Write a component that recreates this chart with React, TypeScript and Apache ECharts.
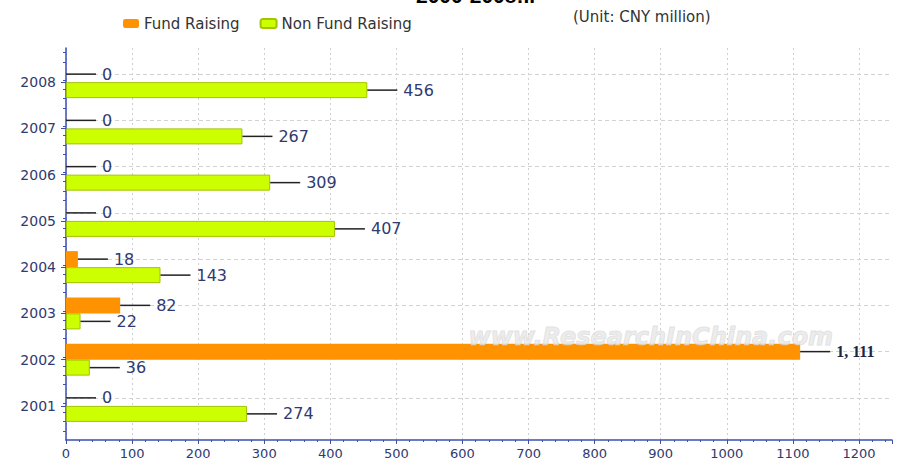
import React, { useEffect, useRef } from "react";
import * as echarts from "echarts";

const years = ["2001", "2002", "2003", "2004", "2005", "2006", "2007", "2008"];
const fundRaising = [0, 1111, 82, 18, 0, 0, 0, 0];
const nonFundRaising = [274, 36, 22, 143, 407, 309, 267, 456];
const seriesNames = ["Fund Raising", "Non Fund Raising"];
const unitText = "(Unit: CNY million)";
const titleText = "2000-2008:..";
const watermarkText = "www.ResearchInChina.com";

const NAVY = "#2f3a70";
const AXIS_BLUE = "#3b4fb5";

function fmt(v: number) {
  return String(v).replace(/\B(?=(\d{3})+(?!\d))/g, ", ");
}

function labelCfg() {
  return {
    show: true,
    position: "right" as const,
    distance: 0,
    formatter: (p: any) => {
      const v = p.value as number;
      return v >= 1000 ? `{l|}{s|${fmt(v)}}` : `{l|}{v|${fmt(v)}}`;
    },
    rich: {
      l: { width: 30, height: 1.5, backgroundColor: "#222" },
      v: {
        color: NAVY,
        fontSize: 16,
        fontFamily: "DejaVu Sans",
        padding: [0, 0, 0, 6],
      },
      s: {
        color: "#1e2444",
        fontSize: 16,
        fontWeight: "bold",
        fontFamily: "Liberation Serif",
        padding: [0, 0, 0, 6],
      },
    },
  };
}

export default function App() {
  const ref = useRef<HTMLDivElement>(null);
  useEffect(() => {
    document.body.style.margin = "0";
    if (!ref.current) return;
    const chart = echarts.init(ref.current, null, { renderer: "svg" });
    chart.setOption({
      animation: false,
      backgroundColor: "#ffffff",
      legend: {
        data: seriesNames,
        left: 118,
        top: 11,
        icon: "roundRect",
        itemWidth: 16,
        itemHeight: 9,
        itemGap: 20,
        textStyle: { fontSize: 15, color: "#333", fontFamily: "DejaVu Sans" },
      },
      graphic: [
        {
          type: "text",
          left: 573,
          top: 9,
          style: {
            text: unitText,
            fontSize: 15,
            fill: "#333",
            fontFamily: "DejaVu Sans",
          },
        },
        {
          type: "text",
          left: 416,
          top: -15,
          style: {
            text: titleText,
            fontSize: 21,
            fontWeight: "bold",
            fill: "#000",
            fontFamily: "Liberation Sans",
          },
        },
        {
          type: "text",
          left: 468,
          top: 324,
          z: 3,
          style: {
            text: watermarkText,
            fontSize: 24,
            fontStyle: "italic",
            fontWeight: "bold",
            fill: "rgba(228,228,228,0.7)",
            stroke: "rgba(205,205,205,0.6)",
            lineWidth: 1,
            fontFamily: "DejaVu Sans",
          },
        },
      ],
      grid: [
        { left: 66, right: 7, top: 59, bottom: 35 },
        { left: 66, right: 7, top: 48, bottom: 24 },
      ],
      xAxis: [
        { type: "value", gridIndex: 0, min: 0, max: 1250, show: false },
        {
          type: "value",
          gridIndex: 1,
          min: 0,
          max: 1250,
          interval: 100,
          axisLine: { show: true, lineStyle: { color: AXIS_BLUE, width: 1.5 } },
          axisTick: { show: true, length: 4, lineStyle: { color: AXIS_BLUE } },
          minorTick: {
            show: true,
            splitNumber: 5,
            length: 2,
            lineStyle: { color: AXIS_BLUE },
          },
          axisLabel: {
            color: NAVY,
            fontSize: 13,
            fontFamily: "DejaVu Sans",
            margin: 7,
            showMaxLabel: false,
            formatter: (v: number) => String(v),
          },
          splitLine: {
            show: true,
            showMaxLine: false,
            lineStyle: { color: "#cfcfcf", type: [2, 3], width: 1 },
          },
        },
      ],
      yAxis: [
        {
          type: "category",
          gridIndex: 0,
          data: years,
          axisLine: { show: false },
          axisTick: {
            show: true,
            alignWithLabel: true,
            length: 5,
            lineStyle: { color: AXIS_BLUE },
          },
          axisLabel: {
            color: NAVY,
            fontSize: 14,
            fontFamily: "DejaVu Sans",
            margin: 10,
          },
          splitLine: { show: false },
        },
        {
          type: "value",
          gridIndex: 1,
          min: 0,
          max: 8.5,
          interval: 1,
          axisLine: { show: true, lineStyle: { color: AXIS_BLUE, width: 1.5 } },
          axisTick: { show: false },
          minorTick: {
            show: true,
            splitNumber: 5,
            length: 3,
            lineStyle: { color: AXIS_BLUE },
          },
          axisLabel: { show: false },
          splitLine: { show: false },
        },
      ],
      series: [
        {
          name: seriesNames[0],
          type: "bar",
          xAxisIndex: 0,
          yAxisIndex: 0,
          data: fundRaising,
          barWidth: 16,
          barGap: "0%",
          itemStyle: { color: "#ff9200", borderWidth: 0 },
          label: labelCfg(),
          markLine: {
            silent: true,
            symbol: "none",
            z: 1,
            label: { show: false },
            lineStyle: { color: "#d2d2d2", type: [4, 3], width: 1 },
            data: years.map((y) => ({ yAxis: y })),
          },
        },
        {
          name: seriesNames[1],
          type: "bar",
          xAxisIndex: 0,
          yAxisIndex: 0,
          data: nonFundRaising,
          barWidth: 16,
          barGap: "0%",
          itemStyle: { color: "#ccff00", borderColor: "#a3c400", borderWidth: 1 },
          label: labelCfg(),
        },
      ],
    });
    return () => chart.dispose();
  }, []);
  return <div ref={ref} style={{ width: 899, height: 464 }} />;
}
